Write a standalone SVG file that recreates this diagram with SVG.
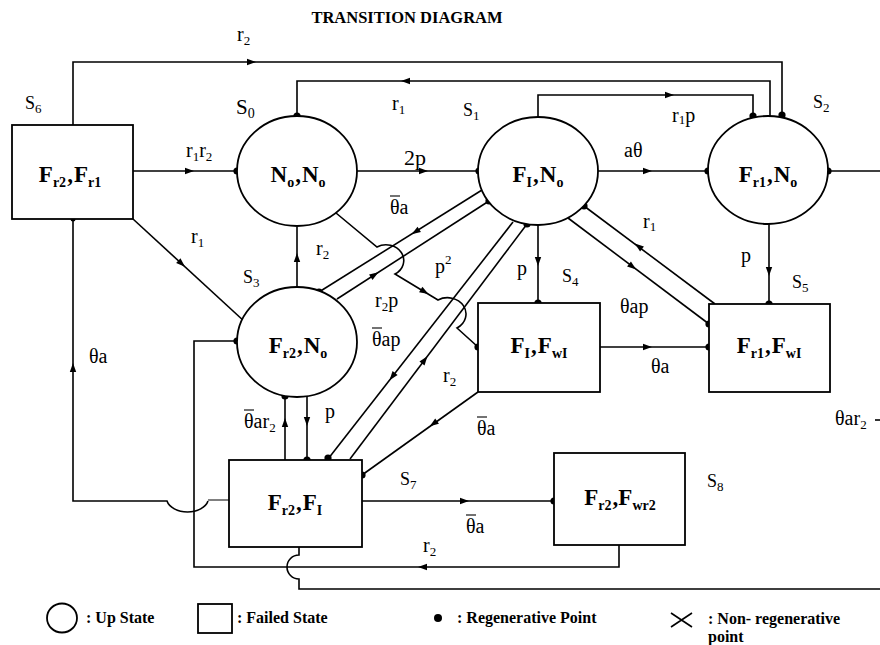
<svg xmlns="http://www.w3.org/2000/svg" xmlns:xlink="http://www.w3.org/1999/xlink" width="880" height="645" viewBox="0 0 880 645">
<style>
.ln{fill:none;stroke:#000;stroke-width:1.6}
.thin{fill:none;stroke:#000;stroke-width:1}
.shape{fill:#fff;stroke:#000;stroke-width:1.8}
.dot{fill:#000}
.ah{fill:#000}
.ov{stroke:#000;stroke-width:1.1}
.nt{font-family:"Liberation Serif","Times New Roman",serif;font-weight:bold;font-size:23px;text-anchor:middle}
.sb{font-size:14px}
.el{font-family:"Liberation Serif","Times New Roman",serif;font-size:20px}
.es{font-size:13px}
.sl{font-family:"Liberation Serif","Times New Roman",serif;font-size:18px}
.title{font-family:"Liberation Serif","Times New Roman",serif;font-weight:bold;font-size:16.5px;text-anchor:middle}
.lg{font-family:"Liberation Serif","Times New Roman",serif;font-weight:bold;font-size:16px}
</style>
<defs>
<polygon id="ah" class="ah" points="4,0 -5,-3.2 -5,3.2"/>
</defs>
<rect width="880" height="645" fill="#fff"/>
<text class="title" x="407" y="23">TRANSITION DIAGRAM</text>

<g id="connectors">
<path class="ln" d="M73,125 V62 H782 V115"/>
<use xlink:href="#ah" transform="translate(252,62)"/>
<path class="ln" d="M770,117 V81 H297 V116"/>
<use xlink:href="#ah" transform="translate(405,81) rotate(180)"/>
<path class="ln" d="M538,117 V95 H753 V116"/>
<use xlink:href="#ah" transform="translate(670,95)"/>
<path class="ln" d="M133,171 H237"/>
<use xlink:href="#ah" transform="translate(190,171)"/>
<path class="ln" d="M357,171 H479"/>
<use xlink:href="#ah" transform="translate(424,171)"/>
<path class="ln" d="M598,171 H708"/>
<use xlink:href="#ah" transform="translate(648,171)"/>
<path class="ln" d="M828,171 H880"/>
<path class="ln" d="M133,219 L245,322"/>
<use xlink:href="#ah" transform="translate(182,264) rotate(42.6)"/>
<path class="ln" d="M297,288 V227"/>
<use xlink:href="#ah" transform="translate(297,257) rotate(-90)"/>
<path class="thin" d="M229,500 H208"/>
<path class="ln" d="M208,501 A21,14 0 0 1 167,501 H73 V219"/>
<use xlink:href="#ah" transform="translate(73,367) rotate(-90)"/>
<path class="ln" d="M619,545 V567 H194 V341 H237"/>
<use xlink:href="#ah" transform="translate(422,567) rotate(180)"/>
<path class="ln" d="M299,547 V555 A12,12 0 0 0 299,579 V589 H880"/>
<path class="ln" d="M285,460 V396"/>
<use xlink:href="#ah" transform="translate(285,422) rotate(-90)"/>
<path class="ln" d="M307,396 V460"/>
<use xlink:href="#ah" transform="translate(307,422) rotate(90)"/>
<path class="ln" d="M482,190 L319,292"/>
<use xlink:href="#ah" transform="translate(415,232) rotate(147.9)"/>
<path class="ln" d="M337,299 L489,201"/>
<use xlink:href="#ah" transform="translate(375,274.5) rotate(-32.8)"/>
<path class="ln" d="M336,213 L377,247 A17,15 0 0 1 395,274 L438,300 A17,15 0 0 1 457,328 L478,347"/>
<use xlink:href="#ah" transform="translate(425,292) rotate(31.2)"/>
<path class="ln" d="M513,222 L328,459"/>
<use xlink:href="#ah" transform="translate(392,377) rotate(128)"/>
<path class="ln" d="M350,459 L527,224"/>
<use xlink:href="#ah" transform="translate(425,359.5) rotate(-53)"/>
<path class="ln" d="M538,225 V303"/>
<use xlink:href="#ah" transform="translate(538,262) rotate(90)"/>
<path class="ln" d="M568,218 L709,324"/>
<use xlink:href="#ah" transform="translate(633,267) rotate(36.9)"/>
<path class="ln" d="M715,304 L584,206"/>
<use xlink:href="#ah" transform="translate(638,246) rotate(-143.2)"/>
<path class="ln" d="M769,224 V304"/>
<use xlink:href="#ah" transform="translate(769,272) rotate(90)"/>
<path class="ln" d="M600,347 H709"/>
<use xlink:href="#ah" transform="translate(648,347)"/>
<path class="ln" d="M478,392 L362,475"/>
<use xlink:href="#ah" transform="translate(433,424) rotate(144.4)"/>
<path class="ln" d="M362,501 H554"/>
<use xlink:href="#ah" transform="translate(465,501)"/>
<path class="ln" d="M875,420 H880"/>

<circle class="dot" cx="297" cy="116" r="3.6"/>
<circle class="dot" cx="237" cy="171" r="3.6"/>
<circle class="dot" cx="479" cy="171" r="3.6"/>
<circle class="dot" cx="708" cy="171" r="3.6"/>
<circle class="dot" cx="828" cy="171" r="3.6"/>
<circle class="dot" cx="753" cy="116" r="3.6"/>
<circle class="dot" cx="782" cy="115" r="3.6"/>
<circle class="dot" cx="73" cy="219" r="2.5"/>
<circle class="dot" cx="245" cy="322" r="3.6"/>
<circle class="dot" cx="237" cy="341" r="3.6"/>
<circle class="dot" cx="319" cy="292" r="3.6"/>
<circle class="dot" cx="489" cy="201" r="3.6"/>
<circle class="dot" cx="527" cy="224" r="3.6"/>
<circle class="dot" cx="584" cy="206" r="3.6"/>
<circle class="dot" cx="285" cy="396" r="3.6"/>
<circle class="dot" cx="307" cy="460" r="3.6"/>
<circle class="dot" cx="328" cy="458" r="3.6"/>
<circle class="dot" cx="362" cy="475" r="3.6"/>
<circle class="dot" cx="538" cy="303" r="3.6"/>
<circle class="dot" cx="478" cy="347" r="3.6"/>
<circle class="dot" cx="709" cy="324" r="3.6"/>
<circle class="dot" cx="709" cy="347" r="3.6"/>
<circle class="dot" cx="769" cy="304" r="3.6"/>
<circle class="dot" cx="554" cy="501" r="3.6"/>

<text class="el" x="237" y="41">r<tspan class="es" dy="4">2</tspan></text>
<text class="el" x="392" y="110">r<tspan class="es" dy="4">1</tspan></text>
<text class="el" x="672" y="122">r<tspan class="es" dy="2">1</tspan><tspan dy="-2">p</tspan></text>
<text class="el" x="186" y="157">r<tspan class="es" dy="4">1</tspan><tspan dy="-4">r</tspan><tspan class="es" dy="4">2</tspan></text>
<text class="el" x="404" y="165" style="font-size:22px">2p</text>
<text class="el" x="624" y="157">aθ</text>
<text class="el" x="390" y="214">θa</text><line class="ov" x1="390" y1="196" x2="400" y2="196"/>
<text class="el" x="191" y="243">r<tspan class="es" dy="4">1</tspan></text>
<text class="el" x="316" y="255">r<tspan class="es" dy="4">2</tspan></text>
<text class="el" x="435" y="273">p<tspan class="es" dy="-9">2</tspan></text>
<text class="el" x="517" y="275">p</text>
<text class="el" x="643" y="228">r<tspan class="es" dy="3">1</tspan></text>
<text class="el" x="741" y="262">p</text>
<text class="el" x="620" y="313">θap</text>
<text class="el" x="375" y="307">r<tspan class="es" dy="4">2</tspan><tspan dy="-4">p</tspan></text>
<text class="el" x="372" y="346">θap</text><line class="ov" x1="372" y1="328" x2="382" y2="328"/>
<text class="el" x="89" y="363">θa</text>
<text class="el" x="651" y="373">θa</text>
<text class="el" x="443" y="382">r<tspan class="es" dy="4">2</tspan></text>
<text class="el" x="325" y="418">p</text>
<text class="el" x="244" y="428">θar<tspan class="es" dy="4">2</tspan></text><line class="ov" x1="244" y1="410" x2="254" y2="410"/>
<text class="el" x="477" y="435">θa</text><line class="ov" x1="477" y1="417" x2="487" y2="417"/>
<text class="el" x="835" y="425">θar<tspan class="es" dy="4">2</tspan></text>
<text class="el" x="466" y="533">θa</text><line class="ov" x1="466" y1="515" x2="476" y2="515"/>
<text class="el" x="423" y="552">r<tspan class="es" dy="4">2</tspan></text>
</g>

<g id="s6">
<rect class="shape" x="12" y="125" width="121" height="94"/>
<text class="nt" x="70" y="182">F<tspan class="sb" dy="5">r2</tspan><tspan dy="-5" dx="1">,</tspan><tspan dx="1">F</tspan><tspan class="sb" dy="5">r1</tspan></text>
<text class="sl" x="25" y="109">S<tspan class="es" dy="4">6</tspan></text>
</g>
<g id="s0">
<ellipse class="shape" cx="297" cy="171" rx="60" ry="55"/>
<text class="nt" x="298" y="182">N<tspan class="sb" dy="5">o</tspan><tspan dy="-5" dx="1">,</tspan><tspan dx="1">N</tspan><tspan class="sb" dy="5">o</tspan></text>
<text class="sl" x="236" y="114" style="font-size:21px">S<tspan class="es" dy="4" style="font-size:14px">0</tspan></text>
</g>
<g id="s1">
<ellipse class="shape" cx="538" cy="171" rx="60" ry="54"/>
<text class="nt" x="538" y="182">F<tspan class="sb" dy="5">I</tspan><tspan dy="-5" dx="1">,</tspan><tspan dx="1">N</tspan><tspan class="sb" dy="5">o</tspan></text>
<text class="sl" x="463" y="116">S<tspan class="es" dy="4">1</tspan></text>
</g>
<g id="s2">
<ellipse class="shape" cx="768" cy="170" rx="60" ry="54"/>
<text class="nt" x="768" y="182">F<tspan class="sb" dy="5">r1</tspan><tspan dy="-5" dx="1">,</tspan><tspan dx="1">N</tspan><tspan class="sb" dy="5">o</tspan></text>
<text class="sl" x="813" y="108">S<tspan class="es" dy="4">2</tspan></text>
</g>
<g id="s3">
<ellipse class="shape" cx="297" cy="342" rx="60" ry="55"/>
<text class="nt" x="298" y="353">F<tspan class="sb" dy="5">r2</tspan><tspan dy="-5" dx="1">,</tspan><tspan dx="1">N</tspan><tspan class="sb" dy="5">o</tspan></text>
<text class="sl" x="243" y="283">S<tspan class="es" dy="4">3</tspan></text>
</g>
<g id="s4">
<rect class="shape" x="478" y="303" width="122" height="89"/>
<text class="nt" x="539" y="353">F<tspan class="sb" dy="5">I</tspan><tspan dy="-5" dx="1">,</tspan><tspan dx="1">F</tspan><tspan class="sb" dy="5">wI</tspan></text>
<text class="sl" x="562" y="282">S<tspan class="es" dy="4">4</tspan></text>
</g>
<g id="s5">
<rect class="shape" x="709" y="304" width="121" height="88"/>
<text class="nt" x="769" y="353">F<tspan class="sb" dy="5">r1</tspan><tspan dy="-5" dx="1">,</tspan><tspan dx="1">F</tspan><tspan class="sb" dy="5">wI</tspan></text>
<text class="sl" x="792" y="288">S<tspan class="es" dy="4">5</tspan></text>
</g>
<g id="s7">
<rect class="shape" x="229" y="460" width="133" height="87"/>
<text class="nt" x="295" y="510">F<tspan class="sb" dy="5">r2</tspan><tspan dy="-5" dx="1">,</tspan><tspan dx="1">F</tspan><tspan class="sb" dy="5">I</tspan></text>
<text class="sl" x="400" y="485">S<tspan class="es" dy="4">7</tspan></text>
</g>
<g id="s8">
<rect class="shape" x="554" y="453" width="131" height="92"/>
<text class="nt" x="620" y="505">F<tspan class="sb" dy="5">r2</tspan><tspan dy="-5" dx="1">,</tspan><tspan>F</tspan><tspan class="sb" dy="5">wr2</tspan></text>
<text class="sl" x="707" y="487">S<tspan class="es" dy="4">8</tspan></text>
</g>

<g id="legend">
<ellipse class="shape" cx="62" cy="618" rx="15" ry="14.5"/>
<text class="lg" x="86" y="623">: Up State</text>
<rect class="shape" x="198" y="604" width="34" height="29"/>
<text class="lg" x="237" y="623">: Failed State</text>
<circle class="dot" cx="438" cy="618" r="4"/>
<text class="lg" x="457" y="623">: Regenerative Point</text>
<path class="ln" d="M671,613 L692,627 M692,613 L671,627"/>
<text class="lg" x="708" y="624">: Non- regenerative</text>
<text class="lg" x="708" y="642">point</text>
</g>
</svg>
